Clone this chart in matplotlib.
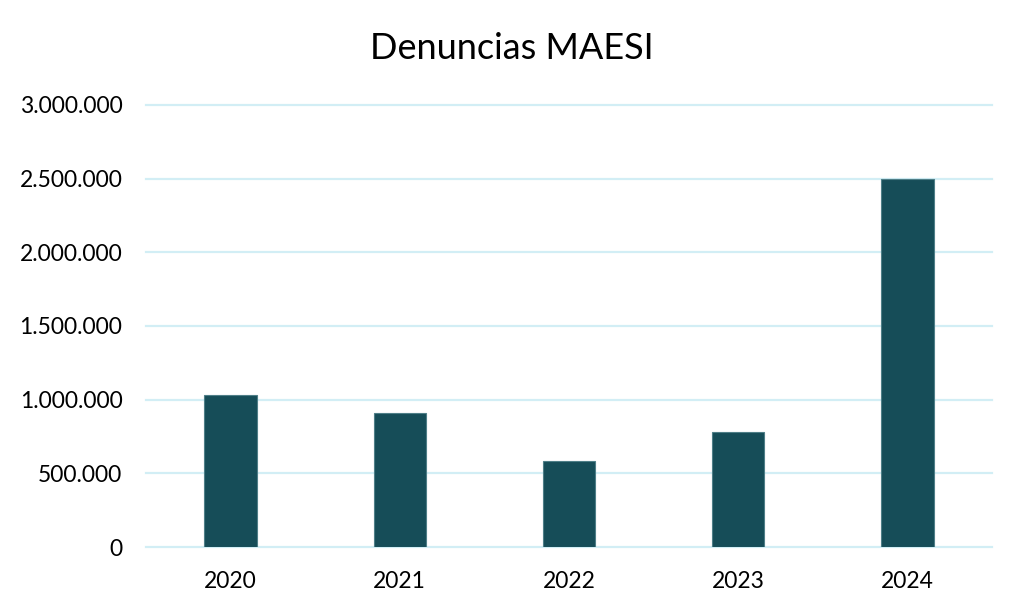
import matplotlib
matplotlib.use("Agg")
import matplotlib.pyplot as plt
from matplotlib.ticker import FuncFormatter

years = ["2020", "2021", "2022", "2023", "2024"]
denuncias = [1032000, 907000, 583000, 780000, 2497000]
y_ticks = [0, 500000, 1000000, 1500000, 2000000, 2500000, 3000000]

plt.rcParams["font.family"] = ["Lato", "DejaVu Sans"]

fig = plt.figure(figsize=(10.24, 6.14), dpi=100)
ax = fig.add_axes([146 / 1024, 1 - 547 / 614, 846 / 1024, 442 / 614])

ax.bar(range(len(years)), denuncias, width=0.31, color="#164D58",
       edgecolor="#4F7F88", linewidth=0.8, zorder=3)

ax.set_xlim(-0.5, len(years) - 0.5)
ax.set_ylim(0, 3000000)
ax.set_yticks(y_ticks)
ax.yaxis.set_major_formatter(FuncFormatter(lambda v, _: f"{int(v):,}".replace(",", ".")))
ax.set_xticks(range(len(years)))
ax.set_xticklabels(years)
ax.grid(axis="y", color="#D2EEF5", linewidth=1.6, zorder=0)
ax.grid(axis="x", visible=False)
for gl in ax.get_ygridlines():
    gl.set_clip_on(False)
for s in ax.spines.values():
    s.set_visible(False)
ax.tick_params(length=0, labelsize=16.5, colors="black")
ax.tick_params(axis="y", pad=17)
ax.tick_params(axis="x", pad=17)

fig.text(0.5, 1 - 59 / 614, "Denuncias MAESI", ha="center", va="baseline",
         fontsize=26, color="black")

fig.savefig("out.png", dpi=100, facecolor="white")
